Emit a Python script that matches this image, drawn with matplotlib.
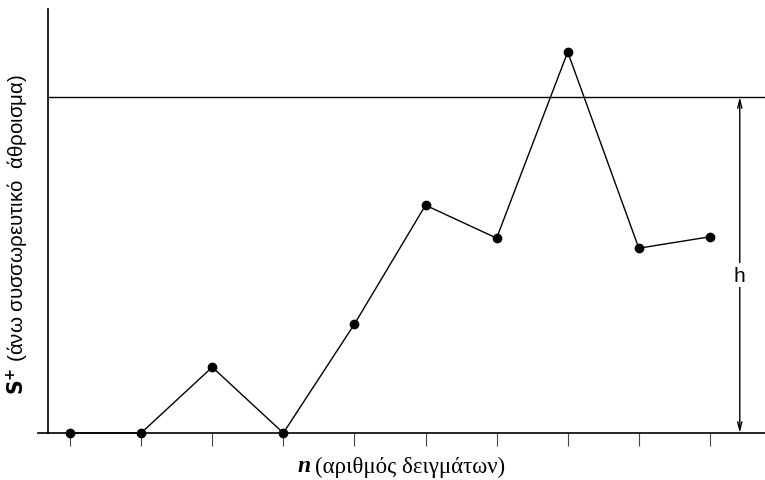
import matplotlib
matplotlib.use("Agg")
import matplotlib.pyplot as plt

# CUSUM S+ values per sample
n = [1, 2, 3, 4, 5, 6, 7, 8, 9, 10]
s_plus = [0, 0, 0.98, 0, 1.62, 3.39, 2.9, 5.67, 2.75, 2.92]
h = 5.0

fig = plt.figure(figsize=(7.65, 4.81), dpi=100)
ax = fig.add_axes([48 / 765, 47 / 481, (765 - 48) / 765, (434 - 10) / 481])

ax.plot(n, s_plus, color="black", lw=1, marker="o", ms=6, clip_on=False, zorder=3)
ax.axhline(h, color="black", lw=1)

ax.set_xlim(0.69, 10.775)
ax.set_ylim(0, 6.31)

for s in ["top", "right", "bottom"]:
    ax.spines[s].set_visible(False)
ax.spines["left"].set_linewidth(1.2)
ax.plot([-0.014, 1], [0, 0], color="black", lw=1.2, transform=ax.transAxes, clip_on=False)

ax.set_xticks(n)
ax.set_xticklabels([])
ax.set_yticks([])
ax.tick_params(axis="x", direction="out", length=9, width=0.8, color="#444444")

# distance h
ax.annotate("", xy=(10.42, 0), xytext=(10.42, h),
            arrowprops=dict(arrowstyle="<->,head_length=0.6,head_width=0.15", lw=1, color="black",
                            shrinkA=0, shrinkB=0))
ax.text(10.42, 2.35, "h", ha="center", va="center", fontsize=15, family="Liberation Sans",
        bbox=dict(facecolor="white", edgecolor="none", pad=2))

# x label: bold italic serif n, then the rest
fig.text(311 / 765, 1 - 467 / 481, "n", ha="right", va="center", fontsize=17,
         family="Liberation Serif", fontweight="bold", fontstyle="italic")
fig.text(315 / 765, 1 - 467 / 481, "(αριθμός δειγμάτων)", ha="left", va="center",
         fontsize=16.5, family="Liberation Serif")
fig.text(17 / 765, 1 - 235 / 481, r"$\mathbf{S^{+}}$ (άνω συσσωρευτικό  άθροισμα)", rotation=90,
         ha="center", va="center", fontsize=14.8, family=["Liberation Sans", "DejaVu Sans"])

fig.savefig("out.png", dpi=100)
